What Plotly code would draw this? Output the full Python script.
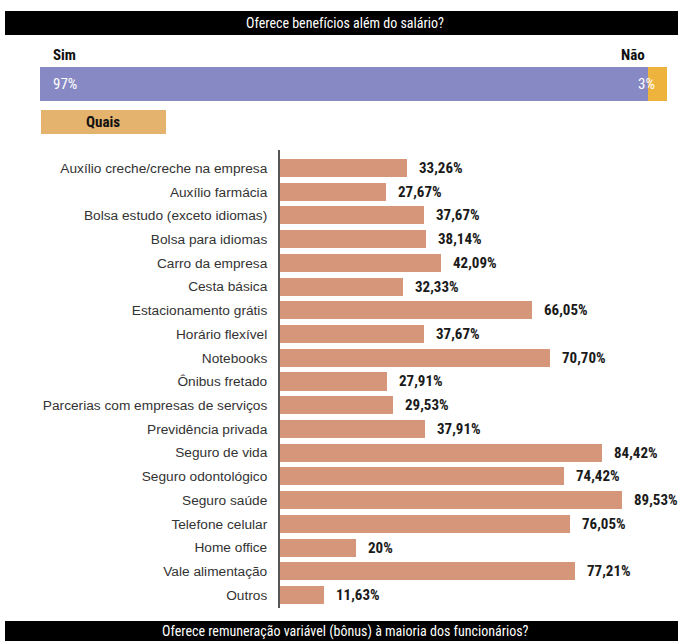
import plotly.graph_objects as go

W, H = 678, 641

categories = [
    "Auxílio creche/creche na empresa", "Auxílio farmácia", "Bolsa estudo (exceto idiomas)",
    "Bolsa para idiomas", "Carro da empresa", "Cesta básica", "Estacionamento grátis",
    "Horário flexível", "Notebooks", "Ônibus fretado", "Parcerias com empresas de serviços",
    "Previdência privada", "Seguro de vida", "Seguro odontológico", "Seguro saúde",
    "Telefone celular", "Home office", "Vale alimentação", "Outros",
]
values = [33.26, 27.67, 37.67, 38.14, 42.09, 32.33, 66.05, 37.67, 70.70, 27.91,
          29.53, 37.91, 84.42, 74.42, 89.53, 76.05, 20, 77.21, 11.63]

top_labels = ["Sim", "Não"]
top_values = [97, 3]
top_colors = ["#8789C4", "#EEB33C"]

title_top = "Oferece benefícios além do salário?"
title_bottom = "Oferece remuneração variável (bônus) à maioria dos funcionários?"
quais = "Quais"

COND = "Roboto Condensed, Open Sans Condensed, sans-serif"
BAR = "#D6967A"


def py(p):
    return 1 - p / H


def px(p):
    return p / W


def fmt(v):
    if float(v).is_integer():
        return f"{int(v)}%"
    return f"{v:.2f}".replace(".", ",") + "%"


fig = go.Figure()

# Main bar chart
fig.add_trace(go.Bar(
    x=values, y=list(range(len(categories))), orientation="h",
    marker=dict(color=BAR, line=dict(width=0)), width=0.76,
    xaxis="x", yaxis="y", showlegend=False, hoverinfo="skip",
))

# Top stacked bar
for lab, v, c in zip(top_labels, top_values, top_colors):
    fig.add_trace(go.Bar(
        x=[v], y=[0], orientation="h", marker=dict(color=c, line=dict(width=0)),
        width=1, xaxis="x2", yaxis="y2", showlegend=False, hoverinfo="skip", name=lab,
    ))

annotations = []
for i, v in enumerate(values):
    annotations.append(dict(
        x=v, y=i, xref="x", yref="y", text=fmt(v), showarrow=False,
        xanchor="left", xshift=10, yshift=0,
        font=dict(family=COND, size=15, color="#1a1a1a", weight="bold"),
    ))

# Top bar percentage labels
annotations.append(dict(x=0, y=0, xref="x2", yref="y2", text=fmt(top_values[0]), showarrow=False,
                        xanchor="left", xshift=11, font=dict(family=COND, size=15, color="white")))
annotations.append(dict(x=100, y=0, xref="x2", yref="y2", text=fmt(top_values[1]), showarrow=False,
                        xanchor="right", xshift=-10, font=dict(family=COND, size=15, color="white")))
# Sim / Não
annotations.append(dict(x=px(51), y=py(55), xref="paper", yref="paper", text=top_labels[0],
                        showarrow=False, xanchor="left", yanchor="middle",
                        font=dict(family=COND, size=15, color="#111", weight="bold")))
annotations.append(dict(x=px(647), y=py(55), xref="paper", yref="paper", text=top_labels[1],
                        showarrow=False, xanchor="right", yanchor="middle",
                        font=dict(family=COND, size=15, color="#111", weight="bold")))
# Titles
annotations.append(dict(x=px(345), y=py(23), xref="paper", yref="paper", text=title_top,
                        showarrow=False, xanchor="center", yanchor="middle",
                        font=dict(family=COND, size=14, color="white")))
annotations.append(dict(x=px(345), y=py(631.5), xref="paper", yref="paper", text=title_bottom,
                        showarrow=False, xanchor="center", yanchor="middle",
                        font=dict(family=COND, size=14, color="white")))
annotations.append(dict(x=px(103.5), y=py(122), xref="paper", yref="paper", text=quais,
                        showarrow=False, xanchor="center", yanchor="middle",
                        font=dict(family=COND, size=15, color="#111", weight="bold")))

shapes = [
    dict(type="rect", xref="paper", yref="paper", x0=px(5), x1=1, y0=py(35), y1=py(11),
         fillcolor="black", line=dict(width=0), layer="below"),
    dict(type="rect", xref="paper", yref="paper", x0=px(5), x1=1, y0=py(641), y1=py(621),
         fillcolor="black", line=dict(width=0), layer="below"),
    dict(type="rect", xref="paper", yref="paper", x0=px(41), x1=px(166), y0=py(134), y1=py(110),
         fillcolor="#E4B46F", line=dict(width=0), layer="below"),
]

fig.update_layout(
    width=W, height=H, margin=dict(l=0, r=0, t=0, b=0),
    paper_bgcolor="white", plot_bgcolor="white", barmode="stack",
    xaxis=dict(domain=[px(280), 1], range=[0, 104.2], visible=False, fixedrange=True),
    yaxis=dict(domain=[py(608), py(150)], range=[18.55, -0.76],
               tickmode="array", tickvals=list(range(len(categories))), ticktext=categories,
               showline=True, linecolor="#555", linewidth=2, ticks="", ticklen=0,
               ticklabelstandoff=8,
               showgrid=False, zeroline=False,
               tickfont=dict(family="Liberation Sans, Arial, sans-serif", size=13.7, color="#333")),
    xaxis2=dict(domain=[px(40), px(667)], range=[0, 100], visible=False, anchor="y2"),
    yaxis2=dict(domain=[py(101), py(67)], range=[-0.5, 0.5], visible=False, anchor="x2"),
    annotations=annotations, shapes=shapes,
)

fig.write_html("out.html")
